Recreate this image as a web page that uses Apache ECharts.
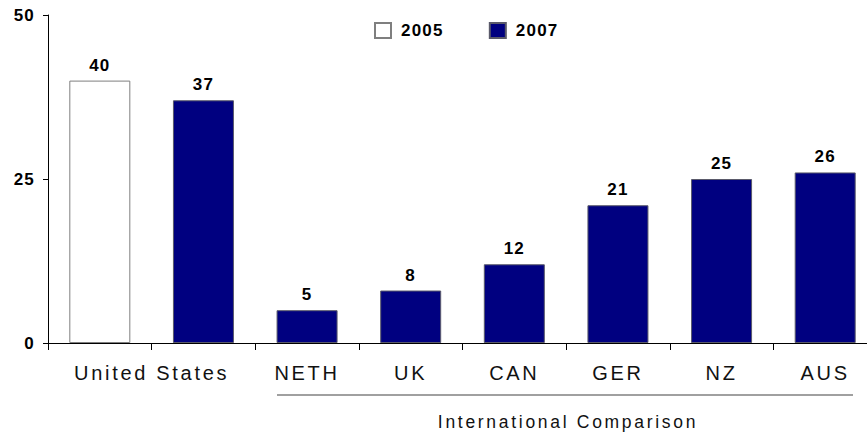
<!DOCTYPE html>
<html>
<head>
<meta charset="utf-8">
<script src="https://cdn.jsdelivr.net/npm/echarts@6/dist/echarts.min.js"></script>
<style>
  html, body { margin: 0; padding: 0; background: #fff; }
  #chart { width: 867px; height: 435px; }
  /* spaced-out lettering, as in the original slide */
  #chart text { letter-spacing: 2.7px; }
  #chart text[style*="bold"] { letter-spacing: 1.2px; }
</style>
</head>
<body>
<div id="chart"></div>
<script>
// Categories: two slots for the United States (2005, 2007), then six countries
const categories = ['US 2005', 'US 2007', 'NETH', 'UK', 'CAN', 'GER', 'NZ', 'AUS'];
const countryLabels = ['', '', 'NETH', 'UK', 'CAN', 'GER', 'NZ', 'AUS'];
const groupLabels = ['United States', '', '', ''];
const seriesNames = ['2005', '2007'];
const values2005 = [40, '-', '-', '-', '-', '-', '-', '-'];
const values2007 = ['-', 37, 5, 8, 12, 21, 25, 26];
const yTicks = { min: 0, max: 50, interval: 25 };
const footnote = 'International Comparison';

const FONT = '"Liberation Sans", Arial, sans-serif';
const chart = echarts.init(document.getElementById('chart'), null, { renderer: 'svg' });

const valueLabel = {
  show: true,
  position: 'top',
  distance: 7,
  color: '#000',
  fontFamily: FONT,
  fontWeight: 'bold',
  fontSize: 17
};

chart.setOption({
  animation: false,
  backgroundColor: '#fff',
  grid: { left: 48, right: -10, top: 15, bottom: 92, containLabel: false, outerBoundsMode: 'none' },
  legend: {
    left: 374,
    top: 22,
    padding: 0,
    itemWidth: 16,
    itemHeight: 15,
    itemGap: 50,
    icon: 'rect',
    data: seriesNames,
    textStyle: { color: '#000', fontFamily: FONT, fontWeight: 'bold', fontSize: 17, padding: [0, 0, 0, 5] }
  },
  xAxis: [
    {
      type: 'category',
      data: categories,
      boundaryGap: true,
      axisLine: { show: true, lineStyle: { color: '#000', width: 1 } },
      axisTick: { show: true, length: 7, lineStyle: { color: '#000' } },
      axisLabel: {
        interval: 0,
        margin: 20,
        color: '#111',
        fontFamily: FONT,
        fontSize: 20,
        formatter: (v, i) => countryLabels[i]
      },
      splitLine: { show: false }
    },
    {
      type: 'category',
      data: groupLabels,
      position: 'bottom',
      boundaryGap: true,
      axisLine: { show: false },
      axisTick: { show: false },
      axisLabel: { interval: 0, margin: 20, color: '#111', fontFamily: FONT, fontSize: 20 },
      splitLine: { show: false }
    }
  ],
  yAxis: {
    type: 'value',
    min: yTicks.min,
    max: yTicks.max,
    interval: yTicks.interval,
    axisLine: { show: true, lineStyle: { color: '#000', width: 1 } },
    axisTick: { show: true, length: 5, lineStyle: { color: '#000' } },
    axisLabel: { margin: 13, color: '#000', fontFamily: FONT, fontWeight: 'bold', fontSize: 17 },
    splitLine: { show: false }
  },
  series: [
    {
      name: seriesNames[0],
      type: 'bar',
      xAxisIndex: 0,
      data: values2005,
      barWidth: 61,
      barGap: '-100%',
      itemStyle: { color: '#fff', borderColor: '#7f7f7f', borderWidth: 1 },
      label: valueLabel
    },
    {
      name: seriesNames[1],
      type: 'bar',
      xAxisIndex: 0,
      data: values2007,
      barWidth: 61,
      barGap: '-100%',
      itemStyle: { color: '#000080', borderColor: '#5a5a6a', borderWidth: 1 },
      label: valueLabel
    }
  ],
  graphic: [
    {
      type: 'line',
      shape: { x1: 277, y1: 395, x2: 853, y2: 395 },
      style: { stroke: '#808080', lineWidth: 1.5 }
    },
    {
      type: 'text',
      x: 568,
      y: 422,
      style: {
        text: footnote,
        fill: '#111',
        font: '17.5px ' + FONT,
        textAlign: 'center',
        textVerticalAlign: 'middle'
      }
    }
  ]
});
</script>
</body>
</html>
